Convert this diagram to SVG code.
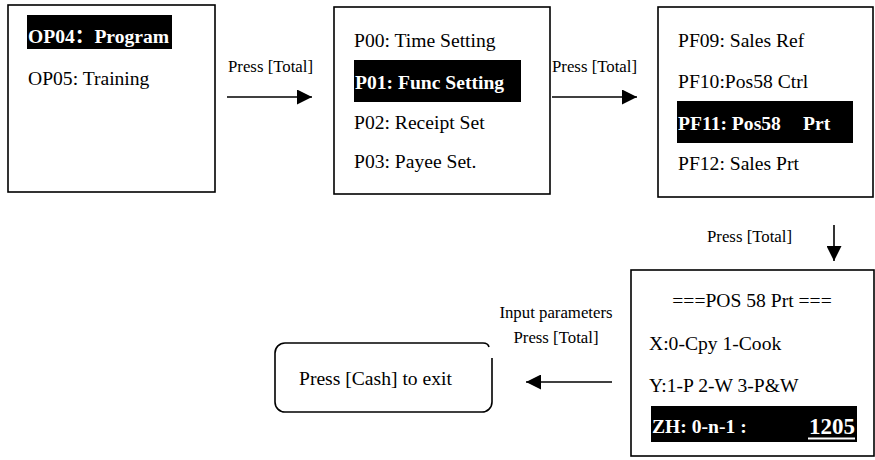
<svg xmlns="http://www.w3.org/2000/svg" width="875" height="460" viewBox="0 0 875 460">
<defs>
<style>
.box{fill:#fff;stroke:#000;stroke-width:1.6}
.t{font-family:"Liberation Serif","Times New Roman","Noto Sans CJK SC",serif;font-size:19.6px;fill:#000}
.b{font-weight:bold;fill:#fff}
.lbl{font-family:"Liberation Serif","Times New Roman",serif;font-size:16.8px;fill:#000}
.hl{fill:#000}
.conn{stroke:#000;stroke-width:1.6;fill:none}
</style>
<marker id="ah" viewBox="0 0 10 10" refX="10" refY="5" markerWidth="15" markerHeight="15" markerUnits="userSpaceOnUse" orient="auto" preserveAspectRatio="none">
<path d="M0,0 L10,5 L0,10 Z" fill="#000"/>
</marker>
</defs>
<rect width="875" height="460" fill="#fff"/>

<g id="node-op">
<rect class="box" x="8" y="5" width="207" height="187"/>
<rect class="hl" x="27" y="15" width="145" height="34"/>
<text class="t b" x="28" y="43">OP04：Program</text>
<text class="t" x="28" y="85">OP05: Training</text>
</g>

<g id="node-p">
<rect class="box" x="334" y="7" width="216" height="187"/>
<text class="t" x="354" y="47">P00: Time Setting</text>
<rect class="hl" x="354" y="60" width="167" height="42"/>
<text class="t b" x="355" y="89">P01: Func Setting</text>
<text class="t" x="354" y="129">P02: Receipt Set</text>
<text class="t" x="354" y="168">P03: Payee Set.</text>
</g>

<g id="node-pf">
<rect class="box" x="658" y="7" width="215" height="190"/>
<text class="t" x="678" y="47">PF09: Sales Ref</text>
<text class="t" x="678" y="88">PF10:Pos58 Ctrl</text>
<rect class="hl" x="677" y="101" width="176" height="42"/>
<text class="t b" x="678" y="130">PF11: Pos58</text>
<text class="t b" x="803" y="130">Prt</text>
<text class="t" x="678" y="170">PF12: Sales Prt</text>
</g>

<g id="node-pos58">
<rect class="box" x="631" y="270" width="243" height="186"/>
<text class="t" x="752" y="307" text-anchor="middle">===POS 58 Prt ===</text>
<text class="t" x="649" y="350">X:0-Cpy 1-Cook</text>
<text class="t" x="649" y="392">Y:1-P 2-W 3-P&amp;W</text>
<rect class="hl" x="651" y="406" width="206" height="36"/>
<text class="t b" x="652" y="433">ZH: 0-n-1 :</text>
<text class="t b" x="855" y="434" text-anchor="end" style="font-size:23px">1205</text>
<line x1="808" y1="438.5" x2="855" y2="438.5" stroke="#fff" stroke-width="1.8"/>
</g>

<g id="node-exit">
<path class="box" d="M492,358 L492,402 A10,10 0 0 1 482,412 L285,412 A10,10 0 0 1 275,402 L275,353 A10,10 0 0 1 285,343 L483,343 Q488,343 489,347"/>
<text class="t" x="299" y="385">Press [Cash] to exit</text>
</g>

<g id="connectors">
<line class="conn" x1="227" y1="97" x2="312" y2="97" marker-end="url(#ah)"/>
<text class="lbl" x="228" y="72">Press [Total]</text>
<line class="conn" x1="552" y1="97" x2="637" y2="97" marker-end="url(#ah)"/>
<text class="lbl" x="552" y="72">Press [Total]</text>
<line class="conn" x1="834" y1="225" x2="834" y2="261" marker-end="url(#ah)"/>
<text class="lbl" x="707" y="242">Press [Total]</text>
<line class="conn" x1="612" y1="382" x2="526" y2="382" marker-end="url(#ah)"/>
<text class="lbl" x="556" y="318" text-anchor="middle">Input parameters</text>
<text class="lbl" x="556" y="343" text-anchor="middle">Press [Total]</text>
</g>
</svg>
